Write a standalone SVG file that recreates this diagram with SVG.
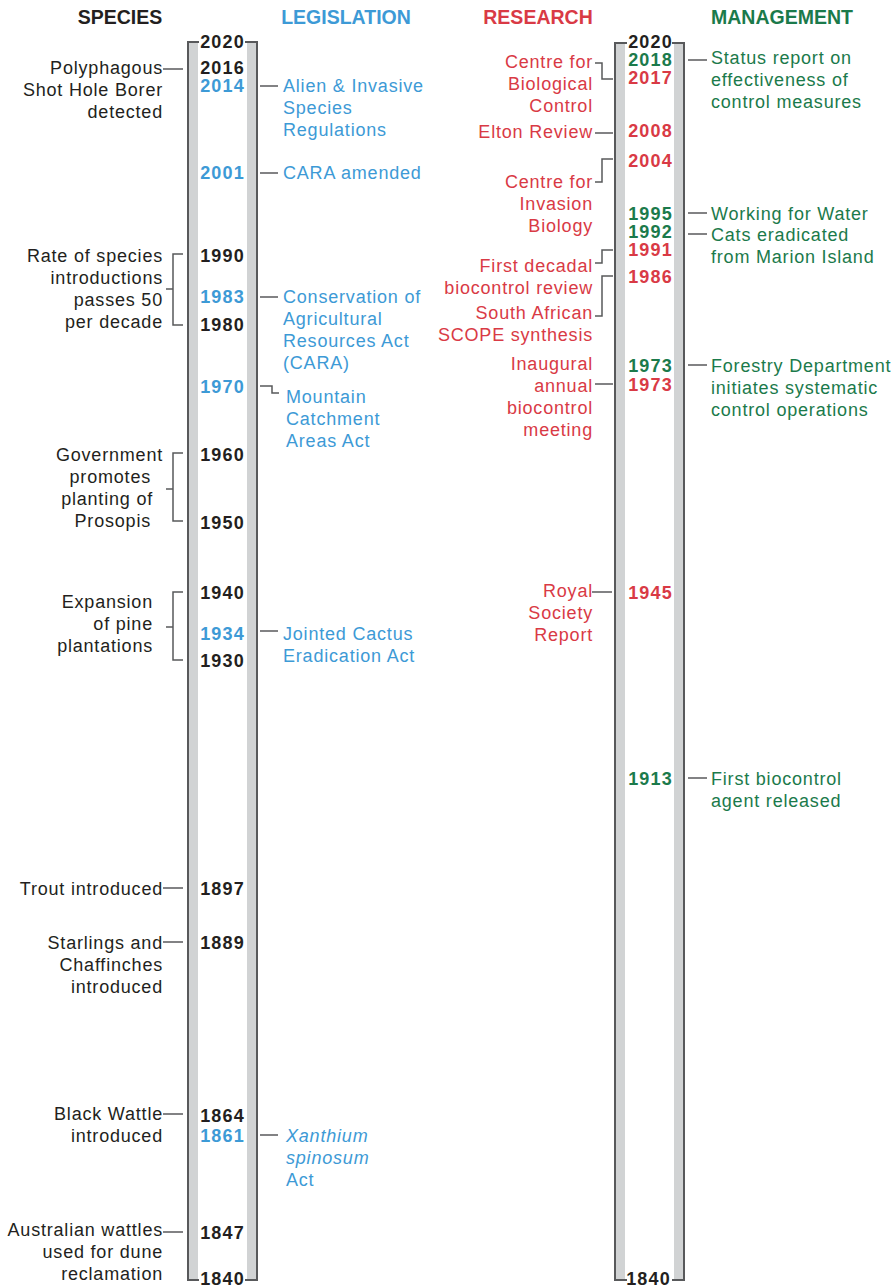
<svg xmlns="http://www.w3.org/2000/svg" width="896" height="1287" viewBox="0 0 896 1287">
<style>
text{font-family:"Liberation Sans",Arial,sans-serif;}
.h{font-size:19.5px;font-weight:bold;text-anchor:middle;}
.t{font-size:18px;letter-spacing:0.8px;}
.n{font-size:18px;font-weight:bold;letter-spacing:1.2px;text-anchor:end;}
.e{text-anchor:end;}
.k{fill:#231f20;}
.b{fill:#3d9ad6;}
.r{fill:#d93a45;}
.g{fill:#1b7a4b;}
.band{fill:#d1d3d4;}
.edge{fill:none;stroke:#58595b;stroke-width:2;}
.c{fill:none;stroke:#58595b;stroke-width:1.5;}
</style>
<rect width="896" height="1287" fill="#ffffff"/>
<g id="headers">
<text class="h k" x="120" y="24">SPECIES</text>
<text class="h b" x="346" y="24">LEGISLATION</text>
<text class="h r" x="538" y="24">RESEARCH</text>
<text class="h g" x="782" y="24">MANAGEMENT</text>
</g>
<g id="timeline-left">
<rect class="band" x="189" y="43" width="9" height="1236"/>
<rect class="band" x="247" y="43" width="9" height="1236"/>
<path class="edge" d="M199,42 H188 V1280 H199"/>
<path class="edge" d="M245,42 H257 V1280 H245"/>
<text class="n k" x="245" y="48">2020</text>
<text class="n k" x="245" y="74">2016</text>
<text class="n b" x="245" y="92">2014</text>
<text class="n b" x="245" y="179">2001</text>
<text class="n k" x="245" y="262">1990</text>
<text class="n b" x="245" y="303">1983</text>
<text class="n k" x="245" y="331">1980</text>
<text class="n b" x="245" y="393">1970</text>
<text class="n k" x="245" y="461">1960</text>
<text class="n k" x="245" y="529">1950</text>
<text class="n k" x="245" y="599">1940</text>
<text class="n b" x="245" y="640">1934</text>
<text class="n k" x="245" y="667">1930</text>
<text class="n k" x="245" y="895">1897</text>
<text class="n k" x="245" y="949">1889</text>
<text class="n k" x="245" y="1122">1864</text>
<text class="n b" x="245" y="1142">1861</text>
<text class="n k" x="245" y="1239">1847</text>
<text class="n k" x="245" y="1285">1840</text>
</g>
<g id="timeline-right">
<rect class="band" x="616" y="44" width="9" height="1235"/>
<rect class="band" x="674" y="44" width="9" height="1235"/>
<path class="edge" d="M627,43 H615 V1280 H627"/>
<path class="edge" d="M672,43 H684 V1280 H672"/>
<text class="n k" x="673" y="48">2020</text>
<text class="n g" x="673" y="66">2018</text>
<text class="n r" x="673" y="84">2017</text>
<text class="n r" x="673" y="137">2008</text>
<text class="n r" x="673" y="167">2004</text>
<text class="n g" x="673" y="220">1995</text>
<text class="n g" x="673" y="238">1992</text>
<text class="n r" x="673" y="256">1991</text>
<text class="n r" x="673" y="283">1986</text>
<text class="n g" x="673" y="372">1973</text>
<text class="n r" x="673" y="391">1973</text>
<text class="n r" x="673" y="599">1945</text>
<text class="n g" x="673" y="785">1913</text>
<text class="n k" x="671" y="1285">1840</text>
</g>
<g id="connectors">
<path class="c" d="M163,69 H183"/>
<path class="c" d="M183,254 H173 V325 H183 M166,289 H173"/>
<path class="c" d="M183,453 H173 V521 H183 M166,489 H173"/>
<path class="c" d="M183,592 H173 V660 H183 M166,627 H173"/>
<path class="c" d="M163,888 H183"/>
<path class="c" d="M163,942 H183"/>
<path class="c" d="M163,1114 H183"/>
<path class="c" d="M163,1232 H183"/>
<path class="c" d="M260,86 H278"/>
<path class="c" d="M260,173 H278"/>
<path class="c" d="M260,297 H278"/>
<path class="c" d="M260,386 H272 V393 H279"/>
<path class="c" d="M260,631 H278"/>
<path class="c" d="M260,1135 H278"/>
<path class="c" d="M595,63 H602 V79 H613"/>
<path class="c" d="M595,133 H613"/>
<path class="c" d="M613,159 H602 V182 H595"/>
<path class="c" d="M613,250 H602 V263 H595"/>
<path class="c" d="M613,276 H602 V316 H595"/>
<path class="c" d="M595,384 H613"/>
<path class="c" d="M592,592 H612"/>
<path class="c" d="M688,60 H707"/>
<path class="c" d="M688,213 H707"/>
<path class="c" d="M688,234 H707"/>
<path class="c" d="M688,365 H707"/>
<path class="c" d="M688,778 H707"/>
</g>
<g id="species-shot-hole-borer"><text class="t k e" x="163" y="74">Polyphagous</text><text class="t k e" x="163" y="96">Shot Hole Borer</text><text class="t k e" x="163" y="118">detected</text></g>
<g id="species-rate"><text class="t k e" x="163" y="262">Rate of species</text><text class="t k e" x="163" y="284">introductions</text><text class="t k e" x="163" y="306">passes 50</text><text class="t k e" x="163" y="328">per decade</text></g>
<g id="species-prosopis"><text class="t k e" x="163" y="461">Government</text><text class="t k e" x="151" y="483">promotes</text><text class="t k e" x="153" y="505">planting of</text><text class="t k e" x="151" y="527">Prosopis</text></g>
<g id="species-pine"><text class="t k e" x="153" y="608">Expansion</text><text class="t k e" x="153" y="630">of pine</text><text class="t k e" x="153" y="652">plantations</text></g>
<g id="species-trout"><text class="t k e" x="163" y="895">Trout introduced</text></g>
<g id="species-starlings"><text class="t k e" x="163" y="949">Starlings and</text><text class="t k e" x="163" y="971">Chaffinches</text><text class="t k e" x="163" y="993">introduced</text></g>
<g id="species-black-wattle"><text class="t k e" x="163" y="1120">Black Wattle</text><text class="t k e" x="163" y="1142">introduced</text></g>
<g id="species-australian-wattles"><text class="t k e" x="163" y="1236">Australian wattles</text><text class="t k e" x="163" y="1258">used for dune</text><text class="t k e" x="163" y="1280">reclamation</text></g>
<g id="leg-aisr"><text class="t b" x="283" y="92">Alien &amp; Invasive</text><text class="t b" x="283" y="114">Species</text><text class="t b" x="283" y="136">Regulations</text></g>
<g id="leg-cara-amended"><text class="t b" x="283" y="179">CARA amended</text></g>
<g id="leg-cara"><text class="t b" x="283" y="303">Conservation of</text><text class="t b" x="283" y="325">Agricultural</text><text class="t b" x="283" y="347">Resources Act</text><text class="t b" x="283" y="369">(CARA)</text></g>
<g id="leg-mountain"><text class="t b" x="286" y="403">Mountain</text><text class="t b" x="286" y="425">Catchment</text><text class="t b" x="286" y="447">Areas Act</text></g>
<g id="leg-cactus"><text class="t b" x="283" y="640">Jointed Cactus</text><text class="t b" x="283" y="662">Eradication Act</text></g>
<g id="leg-xanthium"><text class="t b" x="286" y="1142" font-style="italic">Xanthium</text><text class="t b" x="286" y="1164" font-style="italic">spinosum</text><text class="t b" x="286" y="1186">Act</text></g>
<g id="res-cbc"><text class="t r e" x="593" y="68">Centre for</text><text class="t r e" x="593" y="90">Biological</text><text class="t r e" x="593" y="112">Control</text></g>
<g id="res-elton"><text class="t r e" x="593" y="138">Elton Review</text></g>
<g id="res-cib"><text class="t r e" x="593" y="188">Centre for</text><text class="t r e" x="593" y="210">Invasion</text><text class="t r e" x="593" y="232">Biology</text></g>
<g id="res-decadal"><text class="t r e" x="593" y="272">First decadal</text><text class="t r e" x="593" y="294">biocontrol review</text></g>
<g id="res-scope"><text class="t r e" x="593" y="319">South African</text><text class="t r e" x="593" y="341">SCOPE synthesis</text></g>
<g id="res-inaugural"><text class="t r e" x="593" y="370">Inaugural</text><text class="t r e" x="593" y="392">annual</text><text class="t r e" x="593" y="414">biocontrol</text><text class="t r e" x="593" y="436">meeting</text></g>
<g id="res-royal"><text class="t r e" x="593" y="597">Royal</text><text class="t r e" x="593" y="619">Society</text><text class="t r e" x="593" y="641">Report</text></g>
<g id="man-status"><text class="t g" x="711" y="64">Status report on</text><text class="t g" x="711" y="86">effectiveness of</text><text class="t g" x="711" y="108">control measures</text></g>
<g id="man-wfw"><text class="t g" x="711" y="220">Working for Water</text></g>
<g id="man-cats"><text class="t g" x="711" y="241">Cats eradicated</text><text class="t g" x="711" y="263">from Marion Island</text></g>
<g id="man-forestry"><text class="t g" x="711" y="372">Forestry Department</text><text class="t g" x="711" y="394">initiates systematic</text><text class="t g" x="711" y="416">control operations</text></g>
<g id="man-biocontrol"><text class="t g" x="711" y="785">First biocontrol</text><text class="t g" x="711" y="807">agent released</text></g>
</svg>
